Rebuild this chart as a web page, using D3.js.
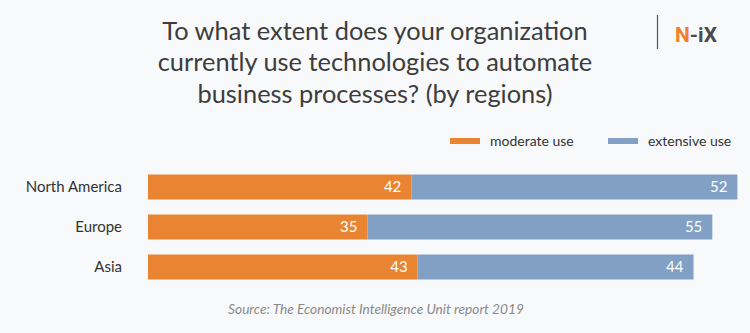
<!DOCTYPE html>
<html>
<head>
<meta charset="utf-8">
<script src="https://cdn.jsdelivr.net/npm/d3@7"></script>
<style>
  html, body { margin: 0; padding: 0; background: #f8f9fb; }
  svg { display: block; font-family: Lato, "Open Sans", sans-serif; }
</style>
</head>
<body>
<svg id="chart" width="750" height="333"></svg>
<script>
// Survey results by region (percent of respondents)
const regions = ["North America", "Europe", "Asia"];
const moderateUse = [42, 35, 43];
const extensiveUse = [52, 55, 44];
const seriesNames = ["moderate use", "extensive use"];
const seriesColors = ["#e98532", "#82a0c4"];
const titleLines = [
  "To what extent does your organization",
  "currently use technologies to automate",
  "business processes? (by regions)"
];
const sourceText = "Source: The Economist Intelligence Unit report 2019";

const svg = d3.select("#chart");
const W = 750, H = 333;

svg.append("rect").attr("width", W).attr("height", H).attr("fill", "#f8f9fb");

// Title
svg.append("g").selectAll("text")
  .data(titleLines)
  .join("text")
  .attr("x", 375)
  .attr("y", (d, i) => 39.5 + i * 31.5)
  .attr("text-anchor", "middle")
  .attr("font-size", 25.4)
  .attr("fill", "#3d3d3d")
  .text(d => d);

// Logo
const logo = svg.append("g");
logo.append("line")
  .attr("x1", 657.5).attr("x2", 657.5).attr("y1", 15).attr("y2", 49)
  .attr("stroke", "#555").attr("stroke-width", 1.2);
const logoText = logo.append("text")
  .attr("x", 675).attr("y", 42)
  .attr("font-size", 21).attr("font-weight", 700)
  .attr("font-family", "Roboto, Lato, sans-serif");
logoText.append("tspan").attr("fill", "#f0812a").text("N");
logoText.append("tspan").attr("fill", "#4b4b4d").text("-iX");

// Scales
const x = d3.scaleLinear().domain([0, 100]).range([148, 775]);
const y = d3.scaleBand().domain(regions).range([167, 287]).paddingInner(0.375).paddingOuter(0.1875);

// Stacked data
const rows = regions.map((r, i) => ({ region: r, values: [moderateUse[i], extensiveUse[i]] }));
const stack = d3.stack().keys([0, 1]).value((d, k) => d.values[k]);
const layers = stack(rows);

const barG = svg.append("g");
layers.forEach((layer, k) => {
  const g = barG.append("g").attr("fill", seriesColors[k]);
  g.selectAll("rect")
    .data(layer)
    .join("rect")
    .attr("x", d => x(d[0]))
    .attr("y", d => y(d.data.region))
    .attr("width", d => x(d[1]) - x(d[0]))
    .attr("height", y.bandwidth());
  barG.append("g").selectAll("text")
    .data(layer)
    .join("text")
    .attr("x", d => x(d[1]) - 10)
    .attr("y", d => y(d.data.region) + y.bandwidth() / 2)
    .attr("dy", "0.36em")
    .attr("text-anchor", "end")
    .attr("font-size", 15)
    .attr("fill", "#fff")
    .text(d => d.data.values[k]);
});

// Category axis
const yAxis = svg.append("g")
  .attr("transform", "translate(122,0)")
  .call(d3.axisLeft(y).tickSize(0).tickPadding(0));
yAxis.select(".domain").remove();
yAxis.selectAll("text")
  .attr("font-size", 15)
  .attr("font-family", "Lato, sans-serif")
  .attr("fill", "#333");

// Legend
const legendX = [450, 608];
const legend = svg.append("g").selectAll("g")
  .data(seriesNames)
  .join("g")
  .attr("transform", (d, i) => `translate(${legendX[i]},138)`);
legend.append("rect")
  .attr("width", 30).attr("height", 6)
  .attr("fill", (d, i) => seriesColors[i]);
legend.append("text")
  .attr("x", 40).attr("y", 3).attr("dy", "0.35em")
  .attr("font-size", 14).attr("fill", "#333")
  .text(d => d);

// Source
svg.append("text")
  .attr("x", 376).attr("y", 314)
  .attr("text-anchor", "middle")
  .attr("font-size", 13.7).attr("font-style", "italic")
  .attr("fill", "#8a8a8a")
  .text(sourceText);
</script>
</body>
</html>
